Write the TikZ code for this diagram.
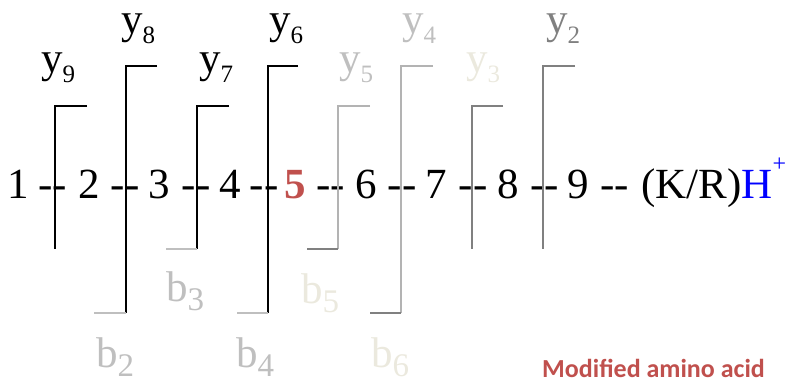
\documentclass[tikz,border=0pt]{standalone}
\usepackage{fontspec}
\setmainfont{Liberation Serif}
\newfontfamily\calib{Carlito}
\definecolor{modred}{HTML}{C0504D}
\definecolor{lgray}{HTML}{BFBFBF}
\definecolor{mgray}{HTML}{B3B3B3}
\definecolor{dgray}{HTML}{808080}
\definecolor{beige}{HTML}{EBE9DE}
\newcommand\ysb[1]{\raisebox{-10pt}[0pt][0pt]{\fontsize{25}{25}\selectfont #1}}
\newcommand\bsb[1]{\raisebox{-9pt}[0pt][0pt]{\fontsize{33}{33}\selectfont #1}}
\begin{document}
\begin{tikzpicture}[x=1pt,y=-1pt,
  seq/.style={font=\fontsize{43}{43}\selectfont, inner sep=0pt, anchor=base},
  lab/.style={font=\fontsize{43}{43}\selectfont, inner sep=0pt, anchor=base west, text height=0.7em, text depth=0pt},
  brk/.style={line width=2.6pt, line join=miter, line cap=butt}]
\useasboundingbox (0,0) rectangle (790,381);

% peptide sequence
\node[seq] (a1) at (18.5,198) {1};
\node[seq] (d1) at (52.5,198) {-\kern0pt-};
\node[seq] (a2) at (89,198) {2};
\node[seq] (d2) at (125,198) {-\kern0pt-};
\node[seq] (a3) at (159.5,198) {3};
\node[seq] (d3) at (196,198) {-\kern0pt-};
\node[seq] (a4) at (230.5,198) {4};
\node[seq] (d4) at (264,198) {-\kern0pt-};
\node[seq] (a5) at (295,198) {\textcolor{modred}{\bfseries 5}};
\node[seq] (d5) at (330.5,198) {-\kern0pt-};
\node[seq] (a6) at (366.5,198) {6};
\node[seq] (d6) at (402,198) {-\kern0pt-};
\node[seq] (a7) at (436.5,198) {7};
\node[seq] (d7) at (473,198) {-\kern0pt-};
\node[seq] (a8) at (508,198) {8};
\node[seq] (d8) at (544.5,198) {-\kern0pt-};
\node[seq] (a9) at (578,198) {9};
\node[seq] (d9) at (614.5,198) {-\kern0pt-};
\node[seq, anchor=base west] (kr) at (641,198) {(K/R)\textcolor{blue}{H\raisebox{27pt}{\fontsize{24}{24}\selectfont +}}};

% y-ion labels
\node[lab] (y9) at (41,72) {y\ysb{9}};
\node[lab] (y8) at (121,33) {y\ysb{8}};
\node[lab] (y7) at (199,72) {y\ysb{7}};
\node[lab] (y6) at (269,33) {y\ysb{6}};
\node[lab, text=lgray] (y5) at (339,72) {y\ysb{5}};
\node[lab, text=lgray] (y4) at (402,33) {y\ysb{4}};
\node[lab, text=beige] (y3) at (466,72) {y\ysb{3}};
\node[lab, text=dgray] (y2) at (546,33) {y\ysb{2}};

% b-ion labels
\node[lab, text=lgray] (b2) at (96,367) {b\bsb{2}};
\node[lab, text=lgray] (b3) at (166,301) {b\bsb{3}};
\node[lab, text=lgray] (b4) at (236,367) {b\bsb{4}};
\node[lab, text=beige] (b5) at (301,303) {b\bsb{5}};
\node[lab, text=beige] (b6) at (371,367) {b\bsb{6}};

% fragmentation brackets
\draw[brk] (87,106) -- (55,106) -- (55,249);
\draw[brk] (157,66) -- (126,66) -- (126,313);
\draw[brk, lgray] (126,313) -- (94,313);
\draw[brk] (229,106) -- (197,106) -- (197,249);
\draw[brk, lgray] (197,249) -- (166,249);
\draw[brk] (298,66) -- (268,66) -- (268,313);
\draw[brk, lgray] (268,313) -- (237,313);
\draw[brk, mgray] (370,106) -- (338,106) -- (338,249);
\draw[brk, dgray] (338,249) -- (307,249);
\draw[brk, mgray] (433,66) -- (401,66) -- (401,313);
\draw[brk, dgray] (401,313) -- (370,313);
\draw[brk, dgray] (503,106) -- (472,106) -- (472,249);
\draw[brk, dgray] (575,66) -- (543,66) -- (543,249);

\node[font=\calib\bfseries\fontsize{26}{26}\selectfont, text=modred, inner sep=0pt, anchor=base west] (note) at (542,377) {Modified amino acid};
\end{tikzpicture}
\end{document}
